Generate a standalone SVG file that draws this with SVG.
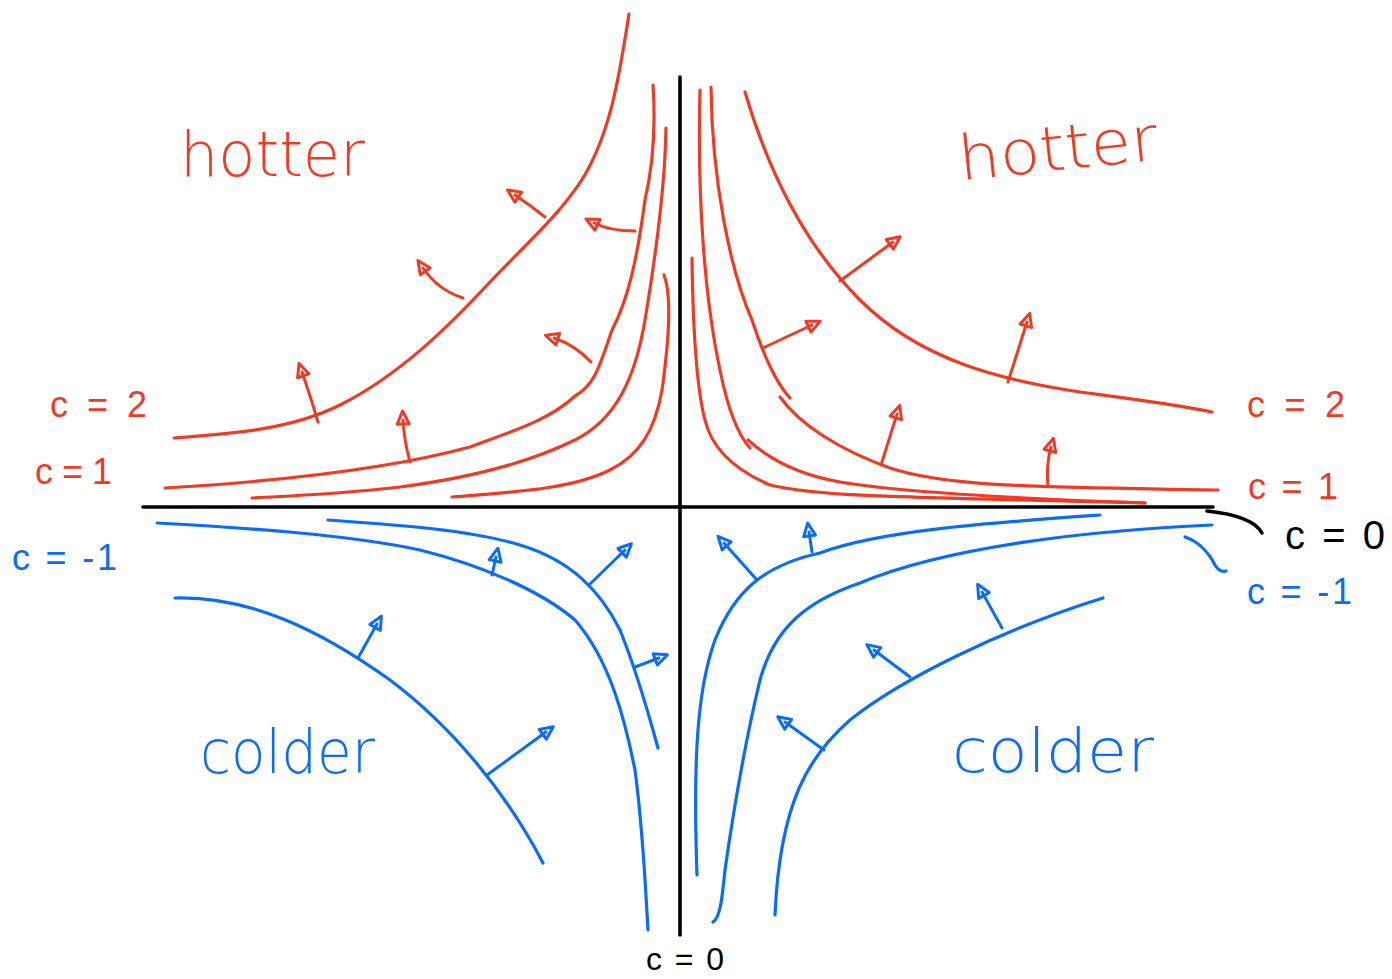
<svg xmlns="http://www.w3.org/2000/svg" width="1392" height="979" viewBox="0 0 1392 979">
<defs>
<style>
.r{fill:none;stroke:#EE3B26;stroke-width:3.2;stroke-linecap:round;stroke-linejoin:round}
.b{fill:none;stroke:#0B6CF4;stroke-width:3.2;stroke-linecap:round;stroke-linejoin:round}
.k{fill:none;stroke:#000;stroke-width:3.6;stroke-linecap:round}
.ar{fill:none;stroke:#EE3B26;stroke-width:3;stroke-linecap:round;stroke-linejoin:round;marker-end:url(#hr)}
.ab{fill:none;stroke:#0B6CF4;stroke-width:3;stroke-linecap:round;stroke-linejoin:round;marker-end:url(#hb)}
.tr{fill:#EE3B26;font-family:"Liberation Sans",Arial,sans-serif}
.tb{fill:#0B6CF4;font-family:"Liberation Sans",Arial,sans-serif}
.tk{fill:#000;font-family:"Liberation Sans",Arial,sans-serif}
.big{font-family:"DejaVu Sans","Liberation Sans",sans-serif;font-weight:200}
</style>
<marker id="hr" viewBox="-2 -9 20 18" refX="4" refY="0" markerWidth="20" markerHeight="18" markerUnits="userSpaceOnUse" orient="auto">
<path d="M0,-6 L13,0 L0,6 Z" fill="none" stroke="#EE3B26" stroke-width="3" stroke-linejoin="round"/>
</marker>
<marker id="hb" viewBox="-2 -9 20 18" refX="4" refY="0" markerWidth="20" markerHeight="18" markerUnits="userSpaceOnUse" orient="auto">
<path d="M0,-6 L13,0 L0,6 Z" fill="none" stroke="#0B6CF4" stroke-width="3" stroke-linejoin="round"/>
</marker>
</defs>
<rect width="1392" height="979" fill="#fff"/>

<g id="axes">
<path class="k" d="M143,507 L1213,507"/>
<path class="k" d="M680,77 L680,935"/>
<path class="k" stroke-width="3" d="M1207,511 C1235,514 1255,520 1262,533"/>
</g>

<g id="hot-upper-left">
<path class="r" d="M629,14 C620,70 612,130 583,178 C560,215 520,250 490,282 C450,325 400,375 340,405 C290,430 230,434 174,438"/>
<path class="r" d="M653,85 C656,130 652,170 645,200 C637,260 628,300 612,330 C600,365 595,385 575,396 C550,420 510,432 470,447 C400,466 300,480 165,488"/>
<path class="r" d="M666,128 C665,190 655,260 645,320 C635,380 615,420 575,440 C530,462 470,478 400,487 C340,494 290,496 252,498"/>
<path class="r" d="M664,275 C672,295 669,340 662,390 C655,430 640,455 610,470 C570,490 510,492 452,497"/>
</g>

<g id="hot-upper-right">
<path class="r" d="M745,92 C765,160 800,240 860,300 C920,360 1000,380 1080,392 C1140,400 1180,405 1212,412"/>
<path class="r" d="M711,87 C712,180 730,270 752,320 C765,360 778,385 790,398"/>
<path class="r" d="M780,397 C800,425 840,450 890,468 C950,488 1050,487 1218,490"/>
<path class="r" d="M700,90 C697,200 705,300 720,370 C728,410 738,435 750,448"/>
<path class="r" d="M748,440 C770,460 800,475 840,482 C900,492 1000,498 1145,503"/>
<path class="r" d="M692,258 C693,330 697,390 705,420 C712,450 735,470 770,485 C820,497 900,497 1145,503"/>
</g>

<g id="cold-lower-left">
<path class="b" d="M328,520 C400,525 470,530 520,545 C570,560 600,590 620,630 C640,680 650,720 658,748"/>
<path class="b" d="M157,523 C250,528 350,535 420,550 C480,565 540,590 575,620 C610,660 625,720 635,770 C643,830 645,880 648,930"/>
<path class="b" d="M175,598 C250,596 320,630 390,680 C450,725 505,790 543,863"/>
</g>

<g id="cold-lower-right">
<path class="b" d="M1100,515 C1000,522 880,530 820,553 C765,565 735,590 715,640 C697,690 693,760 697,875"/>
<path class="b" d="M1212,525 C1100,530 950,545 860,583 C810,600 775,625 760,680 C748,730 735,800 725,870 C722,900 720,918 713,922"/>
<path class="b" d="M1103,598 C1000,630 900,680 850,720 C810,755 780,800 775,915"/>
<path class="b" d="M1185,537 C1200,542 1210,555 1215,565 C1218,570 1222,572 1226,571"/>
</g>

<g id="gradient-arrows">
<path class="ar" d="M545,217 Q530,205 515,195"/>
<path class="ar" d="M463,298 Q438,290 423,268"/>
<path class="ar" d="M318,422 Q310,395 302,372"/>
<path class="ar" d="M635,231 Q610,231 594,223"/>
<path class="ar" d="M591,362 Q575,345 554,338"/>
<path class="ar" d="M410,462 Q404,440 403,420"/>
<path class="ar" d="M840,281 L893,242"/>
<path class="ar" d="M1008,382 L1027,322"/>
<path class="ar" d="M763,348 L812,325"/>
<path class="ar" d="M881,465 L897,414"/>
<path class="ar" d="M1048,486 Q1046,465 1051,447"/>
<path class="ab" d="M492,575 L496,557"/>
<path class="ab" d="M590,584 L625,550"/>
<path class="ab" d="M635,667 L659,658"/>
<path class="ab" d="M358,658 L377,624"/>
<path class="ab" d="M487,775 L546,732"/>
<path class="ab" d="M757,580 L724,543"/>
<path class="ab" d="M812,552 L809,532"/>
<path class="ab" d="M1002,628 L982,592"/>
<path class="ab" d="M910,677 L874,650"/>
<path class="ab" d="M824,750 L785,722"/>
</g>

<g id="labels">
<text class="tr big" x="180" y="176" font-size="62" textLength="185" lengthAdjust="spacingAndGlyphs">hotter</text>
<text class="tr big" x="958" y="170" font-size="62" textLength="200" lengthAdjust="spacingAndGlyphs" transform="rotate(-6 1058 150)">hotter</text>
<text class="tb big" x="200" y="773" font-size="60" textLength="175" lengthAdjust="spacingAndGlyphs">colder</text>
<text class="tb big" x="952" y="772" font-size="60" textLength="202" lengthAdjust="spacingAndGlyphs">colder</text>
<text class="tr" x="50" y="417" font-size="36" textLength="97" lengthAdjust="spacing">c = 2</text>
<text class="tr" x="35" y="484" font-size="36" textLength="77" lengthAdjust="spacing">c = 1</text>
<text class="tb" x="12" y="570" font-size="36" textLength="105" lengthAdjust="spacing">c = -1</text>
<text class="tr" x="1247" y="417" font-size="36" textLength="98" lengthAdjust="spacing">c = 2</text>
<text class="tr" x="1248" y="499" font-size="36" textLength="90" lengthAdjust="spacing">c = 1</text>
<text class="tk" x="1285" y="549" font-size="40" textLength="100" lengthAdjust="spacing">c = 0</text>
<text class="tb" x="1247" y="604" font-size="36" textLength="105" lengthAdjust="spacing">c = -1</text>
<text class="tk" x="646" y="970" font-size="32" textLength="78" lengthAdjust="spacing">c=0</text>
</g>
</svg>
